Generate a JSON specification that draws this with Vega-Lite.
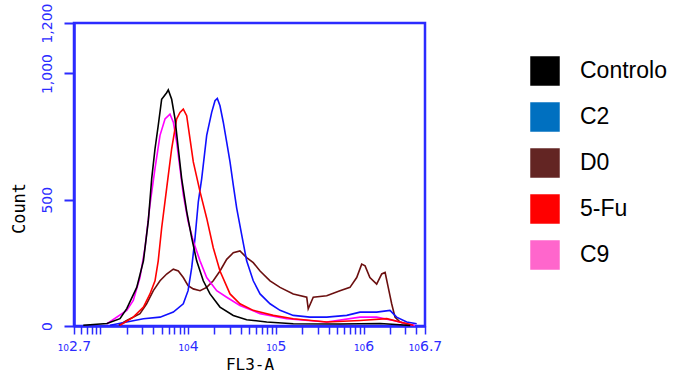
{
  "$schema": "https://vega.github.io/schema/vega-lite/v6.json",
  "width": 351,
  "height": 303,
  "autosize": "none",
  "padding": {"left": 74, "top": 23, "right": 249, "bottom": 50},
  "background": "white",
  "config": {"view": {"stroke": "#2B2BFF", "strokeWidth": 2.5}},
  "data": {"values": [
    {"series": "D0", "fl3": 1620, "count": 3},
    {"series": "D0", "fl3": 2000, "count": 22},
    {"series": "D0", "fl3": 2830, "count": 49},
    {"series": "D0", "fl3": 3370, "count": 88},
    {"series": "D0", "fl3": 4020, "count": 140},
    {"series": "D0", "fl3": 4790, "count": 179},
    {"series": "D0", "fl3": 5700, "count": 206},
    {"series": "D0", "fl3": 6790, "count": 225},
    {"series": "D0", "fl3": 7740, "count": 218},
    {"series": "D0", "fl3": 8820, "count": 192},
    {"series": "D0", "fl3": 10000, "count": 160},
    {"series": "D0", "fl3": 11470, "count": 147},
    {"series": "D0", "fl3": 13680, "count": 140},
    {"series": "D0", "fl3": 16300, "count": 153},
    {"series": "D0", "fl3": 19360, "count": 179},
    {"series": "D0", "fl3": 23100, "count": 218},
    {"series": "D0", "fl3": 27550, "count": 264},
    {"series": "D0", "fl3": 32750, "count": 290},
    {"series": "D0", "fl3": 39000, "count": 297},
    {"series": "D0", "fl3": 46500, "count": 271},
    {"series": "D0", "fl3": 55300, "count": 251},
    {"series": "D0", "fl3": 66100, "count": 218},
    {"series": "D0", "fl3": 85900, "count": 179},
    {"series": "D0", "fl3": 111700, "count": 153},
    {"series": "D0", "fl3": 158000, "count": 127},
    {"series": "D0", "fl3": 225000, "count": 114},
    {"series": "D0", "fl3": 234000, "count": 68},
    {"series": "D0", "fl3": 267000, "count": 114},
    {"series": "D0", "fl3": 380000, "count": 120},
    {"series": "D0", "fl3": 538000, "count": 140},
    {"series": "D0", "fl3": 700000, "count": 153},
    {"series": "D0", "fl3": 835000, "count": 192},
    {"series": "D0", "fl3": 952000, "count": 245},
    {"series": "D0", "fl3": 1040000, "count": 238},
    {"series": "D0", "fl3": 1180000, "count": 192},
    {"series": "D0", "fl3": 1410000, "count": 166},
    {"series": "D0", "fl3": 1610000, "count": 206},
    {"series": "D0", "fl3": 1760000, "count": 212},
    {"series": "D0", "fl3": 1910000, "count": 153},
    {"series": "D0", "fl3": 2090000, "count": 88},
    {"series": "D0", "fl3": 2280000, "count": 35},
    {"series": "D0", "fl3": 2600000, "count": 16},
    {"series": "D0", "fl3": 3400000, "count": 3},

    {"series": "C2", "fl3": 1290, "count": 3},
    {"series": "C2", "fl3": 2000, "count": 16},
    {"series": "C2", "fl3": 3100, "count": 29},
    {"series": "C2", "fl3": 4790, "count": 35},
    {"series": "C2", "fl3": 6790, "count": 55},
    {"series": "C2", "fl3": 8820, "count": 88},
    {"series": "C2", "fl3": 10000, "count": 140},
    {"series": "C2", "fl3": 11000, "count": 231},
    {"series": "C2", "fl3": 12000, "count": 349},
    {"series": "C2", "fl3": 13090, "count": 493},
    {"series": "C2", "fl3": 14300, "count": 584},
    {"series": "C2", "fl3": 16300, "count": 755},
    {"series": "C2", "fl3": 18580, "count": 846},
    {"series": "C2", "fl3": 20270, "count": 892},
    {"series": "C2", "fl3": 21540, "count": 901},
    {"series": "C2", "fl3": 23100, "count": 872},
    {"series": "C2", "fl3": 25190, "count": 807},
    {"series": "C2", "fl3": 27550, "count": 728},
    {"series": "C2", "fl3": 30060, "count": 650},
    {"series": "C2", "fl3": 32750, "count": 558},
    {"series": "C2", "fl3": 35800, "count": 467},
    {"series": "C2", "fl3": 40800, "count": 362},
    {"series": "C2", "fl3": 46500, "count": 258},
    {"series": "C2", "fl3": 55300, "count": 179},
    {"series": "C2", "fl3": 66100, "count": 127},
    {"series": "C2", "fl3": 85900, "count": 88},
    {"series": "C2", "fl3": 111700, "count": 62},
    {"series": "C2", "fl3": 158000, "count": 42},
    {"series": "C2", "fl3": 245000, "count": 35},
    {"series": "C2", "fl3": 380000, "count": 35},
    {"series": "C2", "fl3": 643000, "count": 42},
    {"series": "C2", "fl3": 912000, "count": 55},
    {"series": "C2", "fl3": 1410000, "count": 55},
    {"series": "C2", "fl3": 2000000, "count": 62},
    {"series": "C2", "fl3": 2380000, "count": 35},
    {"series": "C2", "fl3": 3100000, "count": 16},
    {"series": "C2", "fl3": 4030000, "count": 9},

    {"series": "C9", "fl3": 1180, "count": 8},
    {"series": "C9", "fl3": 2000, "count": 62},
    {"series": "C9", "fl3": 2375, "count": 101},
    {"series": "C9", "fl3": 2830, "count": 192},
    {"series": "C9", "fl3": 3230, "count": 310},
    {"series": "C9", "fl3": 3680, "count": 480},
    {"series": "C9", "fl3": 4200, "count": 624},
    {"series": "C9", "fl3": 4790, "count": 755},
    {"series": "C9", "fl3": 5460, "count": 820},
    {"series": "C9", "fl3": 6220, "count": 839},
    {"series": "C9", "fl3": 6790, "count": 807},
    {"series": "C9", "fl3": 7410, "count": 728},
    {"series": "C9", "fl3": 8090, "count": 624},
    {"series": "C9", "fl3": 8830, "count": 519},
    {"series": "C9", "fl3": 10000, "count": 415},
    {"series": "C9", "fl3": 11470, "count": 336},
    {"series": "C9", "fl3": 13680, "count": 258},
    {"series": "C9", "fl3": 16300, "count": 192},
    {"series": "C9", "fl3": 21200, "count": 140},
    {"series": "C9", "fl3": 27550, "count": 114},
    {"series": "C9", "fl3": 39000, "count": 81},
    {"series": "C9", "fl3": 66100, "count": 49},
    {"series": "C9", "fl3": 133000, "count": 29},
    {"series": "C9", "fl3": 380000, "count": 16},
    {"series": "C9", "fl3": 912000, "count": 35},
    {"series": "C9", "fl3": 1410000, "count": 35},
    {"series": "C9", "fl3": 2180000, "count": 22},
    {"series": "C9", "fl3": 3100000, "count": 9},
    {"series": "C9", "fl3": 3850000, "count": 2},

    {"series": "5-Fu", "fl3": 1675, "count": 3},
    {"series": "5-Fu", "fl3": 2375, "count": 35},
    {"series": "5-Fu", "fl3": 3100, "count": 75},
    {"series": "5-Fu", "fl3": 3680, "count": 127},
    {"series": "5-Fu", "fl3": 4200, "count": 179},
    {"series": "5-Fu", "fl3": 4570, "count": 258},
    {"series": "5-Fu", "fl3": 5000, "count": 388},
    {"series": "5-Fu", "fl3": 5700, "count": 545},
    {"series": "5-Fu", "fl3": 6500, "count": 702},
    {"series": "5-Fu", "fl3": 7410, "count": 820},
    {"series": "5-Fu", "fl3": 8090, "count": 846},
    {"series": "5-Fu", "fl3": 8820, "count": 859},
    {"series": "5-Fu", "fl3": 9640, "count": 833},
    {"series": "5-Fu", "fl3": 10520, "count": 741},
    {"series": "5-Fu", "fl3": 11470, "count": 650},
    {"series": "5-Fu", "fl3": 13680, "count": 532},
    {"series": "5-Fu", "fl3": 16300, "count": 427},
    {"series": "5-Fu", "fl3": 19360, "count": 310},
    {"series": "5-Fu", "fl3": 23100, "count": 218},
    {"series": "5-Fu", "fl3": 30060, "count": 127},
    {"series": "5-Fu", "fl3": 39000, "count": 88},
    {"series": "5-Fu", "fl3": 55300, "count": 62},
    {"series": "5-Fu", "fl3": 93500, "count": 42},
    {"series": "5-Fu", "fl3": 158000, "count": 29},
    {"series": "5-Fu", "fl3": 380000, "count": 16},
    {"series": "5-Fu", "fl3": 912000, "count": 22},
    {"series": "5-Fu", "fl3": 1840000, "count": 29},
    {"series": "5-Fu", "fl3": 2600000, "count": 16},
    {"series": "5-Fu", "fl3": 3700000, "count": 3},

    {"series": "Controlo", "fl3": 640, "count": 3},
    {"series": "Controlo", "fl3": 1190, "count": 10},
    {"series": "Controlo", "fl3": 1675, "count": 29},
    {"series": "Controlo", "fl3": 2000, "count": 69},
    {"series": "Controlo", "fl3": 2600, "count": 153},
    {"series": "Controlo", "fl3": 3100, "count": 258},
    {"series": "Controlo", "fl3": 3520, "count": 415},
    {"series": "Controlo", "fl3": 3850, "count": 584},
    {"series": "Controlo", "fl3": 4200, "count": 702},
    {"series": "Controlo", "fl3": 4570, "count": 794},
    {"series": "Controlo", "fl3": 5000, "count": 898},
    {"series": "Controlo", "fl3": 5700, "count": 924},
    {"series": "Controlo", "fl3": 5950, "count": 935},
    {"series": "Controlo", "fl3": 6500, "count": 898},
    {"series": "Controlo", "fl3": 7100, "count": 820},
    {"series": "Controlo", "fl3": 7740, "count": 702},
    {"series": "Controlo", "fl3": 8450, "count": 584},
    {"series": "Controlo", "fl3": 9640, "count": 454},
    {"series": "Controlo", "fl3": 11000, "count": 349},
    {"series": "Controlo", "fl3": 12530, "count": 258},
    {"series": "Controlo", "fl3": 14900, "count": 179},
    {"series": "Controlo", "fl3": 17780, "count": 127},
    {"series": "Controlo", "fl3": 23100, "count": 75},
    {"series": "Controlo", "fl3": 32750, "count": 42},
    {"series": "Controlo", "fl3": 46500, "count": 25},
    {"series": "Controlo", "fl3": 78700, "count": 16},
    {"series": "Controlo", "fl3": 158000, "count": 9},
    {"series": "Controlo", "fl3": 537000, "count": 8},
    {"series": "Controlo", "fl3": 1540000, "count": 10},
    {"series": "Controlo", "fl3": 2600000, "count": 5},
    {"series": "Controlo", "fl3": 3400000, "count": 2}
  ]},
  "encoding": {
    "x": {
      "field": "fl3", "type": "quantitative",
      "scale": {"type": "log", "domain": [501.1872336, 5011872.336], "nice": false},
      "axis": {
        "values": [501.1872336, 600, 700, 800, 900, 1000, 2000, 3000, 4000, 5000, 6000, 7000, 8000, 9000, 10000, 20000, 30000, 40000, 50000, 60000, 70000, 80000, 90000, 100000, 200000, 300000, 400000, 500000, 600000, 700000, 800000, 900000, 1000000, 2000000, 3000000, 4000000, 5011872.336],
        "labelExpr": "datum.value < 502 ? '₁₀2.7' : datum.value == 10000 ? '₁₀4' : datum.value == 100000 ? '₁₀5' : datum.value == 1000000 ? '₁₀6' : datum.value > 5000001 ? '₁₀6.7' : ''",
        "grid": false, "tickColor": "#2B2BFF", "tickSize": 8, "tickWidth": 1.5,
        "domainColor": "#2B2BFF", "domainWidth": 2.5,
        "labelColor": "#2B2BFF", "labelFont": "DejaVu Sans", "labelFontSize": 14,
        "labelPadding": 5, "labelOverlap": false, "labelFlush": false,
        "title": "FL3-A", "titleFont": "DejaVu Sans Mono", "titleFontSize": 16, "titleFontWeight": "normal",
        "titleColor": "black", "titleY": 30, "titleBaseline": "top"
      }
    },
    "y": {
      "field": "count", "type": "quantitative",
      "scale": {"domain": [0, 1200], "nice": false},
      "axis": {
        "values": [0, 500, 1000, 1200], "format": ",.0f",
        "grid": false, "tickColor": "#2B2BFF", "tickSize": 10, "tickWidth": 2,
        "domainColor": "#2B2BFF", "domainWidth": 2.5,
        "labelColor": "#2B2BFF", "labelFont": "DejaVu Sans", "labelFontSize": 14,
        "labelAngle": 270, "labelPadding": 10,
        "title": "Count", "titleFont": "DejaVu Sans Mono", "titleFontSize": 17, "titleFontWeight": "normal",
        "titleColor": "black", "titleAngle": 270, "titleX": -55, "titleY": 185,
        "titleAlign": "center", "titleBaseline": "middle"
      }
    }
  },
  "layer": [
    {
      "mark": {"type": "line", "strokeWidth": 1.6},
      "encoding": {
        "color": {
          "field": "series", "type": "nominal",
          "scale": {"domain": ["Controlo", "C2", "D0", "5-Fu", "C9"], "range": ["#000000", "#1010FF", "#6B0F0F", "#FF0000", "#FF00FF"]},
          "legend": null
        },
        "order": {"field": "fl3", "type": "quantitative"}
      }
    },
    {
      "mark": {"type": "square", "filled": true, "opacity": 0, "size": 1},
      "encoding": {
        "fill": {
          "field": "series", "type": "nominal",
          "scale": {"domain": ["C9", "5-Fu", "D0", "C2", "Controlo"], "range": ["#FF66CC", "#FF0000", "#632523", "#0070C0", "#000000"]},
          "legend": {
            "values": ["Controlo", "C2", "D0", "5-Fu", "C9"],
            "orient": "none", "legendX": 456, "legendY": 33, "title": null, "padding": 0,
            "symbolType": "square", "symbolSize": 870, "symbolStrokeWidth": 0, "symbolOpacity": 1,
            "labelFont": "Liberation Sans", "labelFontSize": 23, "labelColor": "black",
            "labelOffset": 20, "rowPadding": 16
          }
        }
      }
    }
  ]
}
